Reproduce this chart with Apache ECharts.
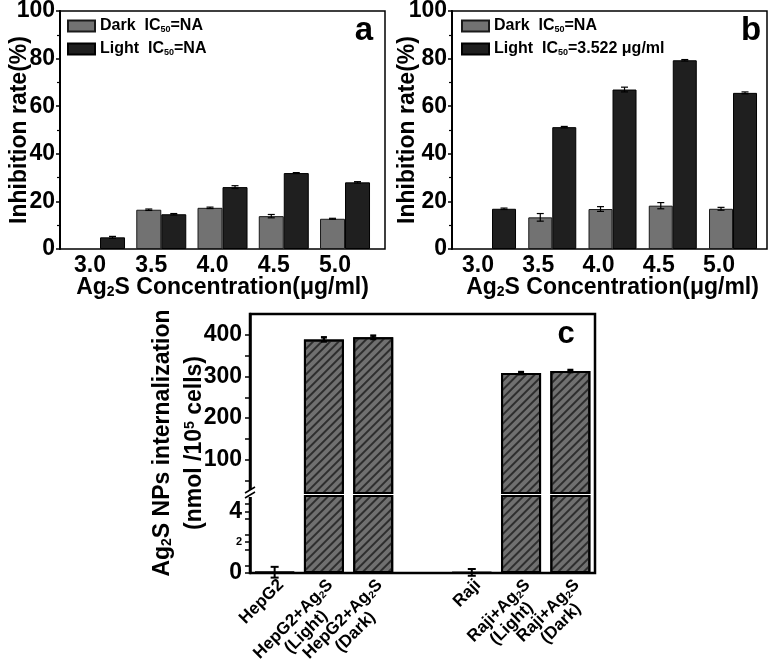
<!DOCTYPE html>
<html><head><meta charset="utf-8">
<script src="https://cdn.jsdelivr.net/npm/echarts@6/dist/echarts.min.js"></script>
<style>html,body{margin:0;padding:0;background:#fff}#c{width:774px;height:662px}</style>
</head><body><div id="c"></div>
<script>
// ---- data ----
const concentrations = ['3.0', '3.5', '4.0', '4.5', '5.0'];
const aDark = [null, 16.5, 17.3, 13.8, 12.7];
const aDarkErr = [null, 0.3, 0.3, 0.7, 0.2];
const aLight = [4.9, 14.6, 26.0, 31.9, 28.0];
const aLightErr = [0.4, 0.3, 0.6, 0.2, 0.3];
const bDark = [null, 13.3, 16.8, 18.2, 16.9];
const bDarkErr = [null, 1.6, 1.0, 1.3, 0.6];
const bLight = [16.9, 51.2, 67.0, 79.3, 65.6];
const bLightErr = [0.3, 0.3, 1.0, 0.3, 0.4];
const cCategories = ['HepG2', 'HepG2+Ag2S (Light)', 'HepG2+Ag2S (Dark)', '', 'Raji', 'Raji+Ag2S (Light)', 'Raji+Ag2S (Dark)'];
const cValues = [0.05, 389, 394, null, 0.04, 308, 313];
const cErr = [0.35, 5, 4, null, 0.22, 2.5, 2.5];
const cUpperLabels = [100, 200, 300, 400];
const cUpperTicks = [50, 100, 150, 200, 250, 300, 350, 400];
const cLowerLabels = [0, 1, 2, 3, 4];
const cLowerTicks = [0, 0.5, 1, 1.5, 2, 2.5, 3, 3.5, 4, 4.5];

// ---- styling ----
const FF = "'Liberation Sans', Arial, sans-serif";
const bold = (size) => ({ fontFamily: FF, fontWeight: 'bold', fontSize: size, color: '#000' });
const subRich = (size) => ({ s: { fontFamily: FF, fontWeight: 'bold', fontSize: size, color: '#000', verticalAlign: 'bottom', lineHeight: size } });

const chart = echarts.init(document.getElementById('c'), null, { renderer: 'canvas' });

function errRender(offset, capHalf, lw) {
  return function (params, api) {
    const cat = api.value(0), v = api.value(1), e = api.value(2);
    const top = api.coord([cat, v + e]);
    const bot = api.coord([cat, v - e]);
    const x = top[0] + offset;
    const style = { stroke: '#000', lineWidth: lw };
    return {
      type: 'group', children: [
        { type: 'line', shape: { x1: x, y1: top[1], x2: x, y2: bot[1] }, style },
        { type: 'line', shape: { x1: x - capHalf, y1: top[1], x2: x + capHalf, y2: top[1] }, style },
        { type: 'line', shape: { x1: x - capHalf, y1: bot[1], x2: x + capHalf, y2: bot[1] }, style }
      ]
    };
  };
}
function errData(vals, errs, filter) {
  const out = [];
  vals.forEach((v, i) => { if (v != null && errs[i] != null && (!filter || filter(v))) out.push([i, v, errs[i]]); });
  return out;
}

const darkStyle = { color: '#727272', borderColor: '#1a1a1a', borderWidth: 1 };
const lightStyle = { color: '#1f1f1f', borderColor: '#000', borderWidth: 1 };
const hatch = {
  color: '#707070', borderColor: '#000', borderWidth: 2,
  decal: { symbol: 'rect', symbolSize: 1, dashArrayX: [1, 0], dashArrayY: [1.6, 3.2], rotation: -Math.PI / 4, color: '#2e2e2e' }
};

function inhibAxis(gridIndex, gap) {
  return {
    type: 'value', gridIndex, min: 0, max: 100, interval: 20,
    name: 'Inhibition rate(%)', nameLocation: 'middle', nameGap: gap, nameMoveOverlap: false,
    nameTextStyle: bold(23),
    axisLine: { show: true, lineStyle: { color: '#000', width: 2 } },
    axisTick: { show: true, inside: false, length: 4, lineStyle: { color: '#000', width: 1.5 } },
    minorTick: { show: true, splitNumber: 2, length: 3, lineStyle: { color: '#000', width: 1.2 } },
    axisLabel: Object.assign(bold(23), { margin: 5, showMinLabel: true, showMaxLabel: true }),
    splitLine: { show: false }
  };
}
function hiddenY(gridIndex, min, max) {
  return { type: 'value', gridIndex, min, max, show: false, splitLine: { show: false } };
}
function concAxis(gridIndex, pad) {
  return {
    type: 'category', gridIndex, data: concentrations,
    name: 'Ag{s|2}S Concentration(μg/ml)', nameLocation: 'middle', nameGap: 27, nameMoveOverlap: false,
    nameTextStyle: Object.assign(bold(23), { rich: subRich(14) }),
    axisLine: { show: false }, axisTick: { show: false },
    axisLabel: Object.assign(bold(23), { margin: 5, padding: [0, pad, 0, 0] })
  };
}

const cLabelRich = {
  n: { fontFamily: FF, fontWeight: 'bold', fontSize: 17, color: '#000', lineHeight: 18 },
  s: { fontFamily: FF, fontWeight: 'bold', fontSize: 10, color: '#000', verticalAlign: 'bottom', lineHeight: 10 },
  c: { fontFamily: FF, fontWeight: 'bold', fontSize: 17, color: '#000', lineHeight: 18, align: 'center' }
};
function cLabel(v) {
  if (!v) return '';
  const m = v.match(/^(.*)\+Ag2S \((.*)\)$/);
  if (!m) return '{n|' + v + '}';
  return '{n|' + m[1] + '+Ag}{s|2}{n|S}\n{c|(' + m[2] + ')}';
}

const G = { outerBoundsMode: 'none', containLabel: false };
const option = {
  backgroundColor: '#fff',
  animation: false,
  grid: [
    Object.assign({ left: 60, top: 11, width: 325, height: 238, show: true, borderColor: '#000', borderWidth: 1.5, backgroundColor: 'transparent' }, G),
    Object.assign({ left: 69.4, top: 11, width: 306.25, height: 238 }, G),
    Object.assign({ left: 452, top: 11, width: 315, height: 238, show: true, borderColor: '#000', borderWidth: 1.5, backgroundColor: 'transparent' }, G),
    Object.assign({ left: 461.9, top: 11, width: 301.25, height: 238 }, G),
    Object.assign({ left: 250, top: 314, width: 345, height: 259, show: true, borderColor: '#000', borderWidth: 2.5, backgroundColor: 'transparent' }, G),
    Object.assign({ left: 250, top: 314, width: 345, height: 179 }, G),
    Object.assign({ left: 250, top: 496, width: 345, height: 77 }, G)
  ],
  xAxis: [
    { type: 'value', gridIndex: 0, show: false, splitLine: { show: false } },
    concAxis(1, 20),
    { type: 'value', gridIndex: 2, show: false, splitLine: { show: false } },
    concAxis(3, 28),
    { type: 'value', gridIndex: 4, show: false, splitLine: { show: false } },
    { type: 'category', gridIndex: 5, data: cCategories, show: false },
    {
      type: 'category', gridIndex: 6, data: cCategories,
      axisLine: { show: false }, axisTick: { show: false },
      axisLabel: { interval: 0, rotate: 45, margin: 3, verticalAlign: 'top', formatter: cLabel, rich: cLabelRich, hideOverlap: false }
    }
  ],
  yAxis: [
    inhibAxis(0, 29),
    hiddenY(1, 0, 100),
    inhibAxis(2, 33),
    hiddenY(3, 0, 100),
    hiddenY(4, 0, 1),
    {
      type: 'value', gridIndex: 5, min: 20, max: 450,
      axisLine: { show: true, lineStyle: { color: '#000', width: 2.5 } },
      axisTick: { show: true, customValues: cUpperTicks, length: 5, lineStyle: { color: '#000', width: 1.5 } },
      axisLabel: Object.assign(bold(23), { margin: 8, customValues: cUpperLabels, showMinLabel: true, showMaxLabel: true }),
      splitLine: { show: false }
    },
    {
      type: 'value', gridIndex: 6, min: 0, max: 5,
      axisLine: { show: true, lineStyle: { color: '#000', width: 2.5 } },
      axisTick: { show: true, customValues: cLowerTicks, length: 5, lineStyle: { color: '#000', width: 1.5 } },
      axisLabel: {
        margin: 8, customValues: cLowerLabels, showMinLabel: true, showMaxLabel: true, hideOverlap: false,
        formatter: (v) => (Number(v) === 0 || Number(v) === 4) ? '{b|' + v + '}' : '{m|' + v + '}',
        rich: {
          b: { fontFamily: FF, fontWeight: 'bold', fontSize: 23, color: '#000', lineHeight: 16 },
          m: { fontFamily: FF, fontWeight: 'bold', fontSize: 11, color: '#000', lineHeight: 10 }
        }
      },
      splitLine: { show: false }
    }
  ],
  legend: [
    {
      data: ['Dark a', 'Light a'], left: 62, top: 13, orient: 'vertical', icon: 'rect',
      itemWidth: 27, itemHeight: 11, itemGap: 7, selectedMode: false,
      formatter: (n) => n === 'Dark a' ? 'Dark  IC{s|50}=NA' : 'Light  IC{s|50}=NA',
      textStyle: Object.assign(bold(16), { rich: subRich(9) })
    },
    {
      data: ['Dark b', 'Light b'], left: 456, top: 13, orient: 'vertical', icon: 'rect',
      itemWidth: 27, itemHeight: 11, itemGap: 7, selectedMode: false,
      formatter: (n) => n === 'Dark b' ? 'Dark  IC{s|50}=NA' : 'Light  IC{s|50}=3.522 μg/ml',
      textStyle: Object.assign(bold(16), { rich: subRich(9) })
    }
  ],
  series: [
    { name: 'Dark a', type: 'bar', xAxisIndex: 1, yAxisIndex: 1, data: aDark, barWidth: 25, barGap: '0%', itemStyle: darkStyle },
    { name: 'Light a', type: 'bar', xAxisIndex: 1, yAxisIndex: 1, data: aLight, barWidth: 25, barGap: '0%', itemStyle: lightStyle },
    { type: 'custom', xAxisIndex: 1, yAxisIndex: 1, data: errData(aDark, aDarkErr), renderItem: errRender(-12.5, 3.5, 1.2), z: 5 },
    { type: 'custom', xAxisIndex: 1, yAxisIndex: 1, data: errData(aLight, aLightErr), renderItem: errRender(12.5, 3.5, 1.2), z: 5 },

    { name: 'Dark b', type: 'bar', xAxisIndex: 3, yAxisIndex: 3, data: bDark, barWidth: 24, barGap: '0%', itemStyle: darkStyle },
    { name: 'Light b', type: 'bar', xAxisIndex: 3, yAxisIndex: 3, data: bLight, barWidth: 24, barGap: '0%', itemStyle: lightStyle },
    { type: 'custom', xAxisIndex: 3, yAxisIndex: 3, data: errData(bDark, bDarkErr), renderItem: errRender(-12, 3.5, 1.2), z: 5 },
    { type: 'custom', xAxisIndex: 3, yAxisIndex: 3, data: errData(bLight, bLightErr), renderItem: errRender(12, 3.5, 1.2), z: 5 },

    { type: 'bar', xAxisIndex: 5, yAxisIndex: 5, data: cValues, barWidth: 40, itemStyle: hatch },
    { type: 'bar', xAxisIndex: 6, yAxisIndex: 6, data: cValues, barWidth: 40, itemStyle: hatch },
    { type: 'custom', xAxisIndex: 5, yAxisIndex: 5, data: errData(cValues, cErr, (v) => v > 20), renderItem: errRender(0, 3, 2.5), z: 5 },
    { type: 'custom', xAxisIndex: 6, yAxisIndex: 6, data: errData(cValues, cErr, (v) => v < 5), renderItem: errRender(0, 4, 2), z: 5 }
  ],
  graphic: [
    { type: 'text', x: 364, y: 31, style: { text: 'a', fontFamily: FF, fontWeight: 'bold', fontSize: 33, fill: '#000', align: 'center', verticalAlign: 'middle' } },
    { type: 'text', x: 751, y: 31, style: { text: 'b', fontFamily: FF, fontWeight: 'bold', fontSize: 33, fill: '#000', align: 'center', verticalAlign: 'middle' } },
    { type: 'text', x: 566, y: 334, style: { text: 'c', fontFamily: FF, fontWeight: 'bold', fontSize: 31, fill: '#000', align: 'center', verticalAlign: 'middle' } },
    {
      type: 'text', x: 163, y: 443, rotation: Math.PI / 2,
      style: { text: 'Ag{s|2}S NPs internalization', fontFamily: FF, fontWeight: 'bold', fontSize: 23, fill: '#000', align: 'center', verticalAlign: 'middle', rich: { s: { fontFamily: FF, fontWeight: 'bold', fontSize: 14, fill: '#000', verticalAlign: 'bottom', lineHeight: 14 } } }
    },
    {
      type: 'text', x: 195, y: 443, rotation: Math.PI / 2,
      style: { text: '(nmol /10{p|5} cells)', fontFamily: FF, fontWeight: 'bold', fontSize: 23, fill: '#000', align: 'center', verticalAlign: 'middle', rich: { p: { fontFamily: FF, fontWeight: 'bold', fontSize: 14, fill: '#000', verticalAlign: 'top', lineHeight: 14 } } }
    },
    { type: 'rect', shape: { x: 245, y: 490, width: 10, height: 7 }, style: { fill: '#fff' }, z: 20 },
    { type: 'line', shape: { x1: 245, y1: 493, x2: 255, y2: 487 }, style: { stroke: '#000', lineWidth: 1.5 }, z: 21 },
    { type: 'line', shape: { x1: 245, y1: 498, x2: 255, y2: 492 }, style: { stroke: '#000', lineWidth: 1.5 }, z: 21 }
  ]
};
chart.setOption(option);
</script>
</body></html>
